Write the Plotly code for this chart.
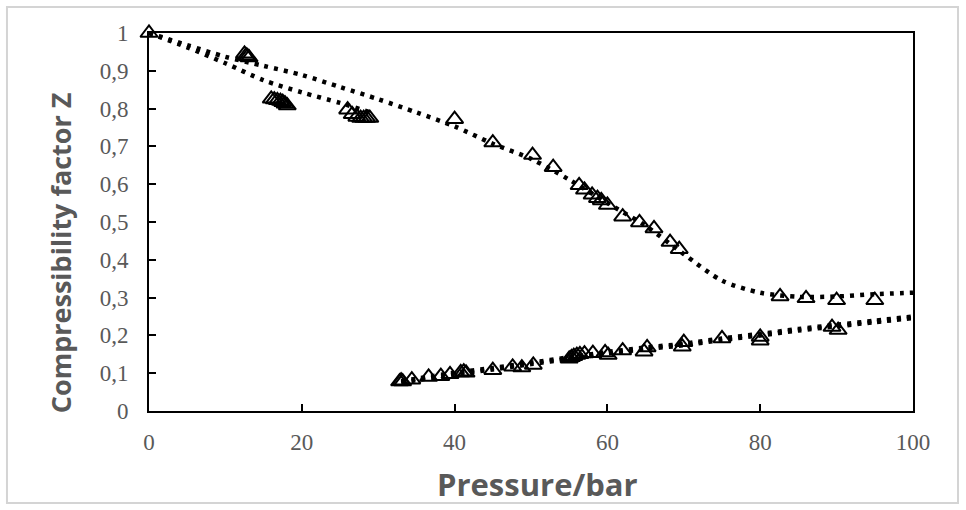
import plotly.graph_objects as go

# ---- data ----
# series A (upper branch)
a_p = [0, 12.5, 12.7, 12.9, 13.1, 40, 45, 50.2, 52.9, 56.3, 57, 58, 58.7, 59.2, 60,
       62, 64.2, 66.1, 68.2, 69.4, 82.6, 86, 90, 95]
a_z = [1.0, 0.945, 0.94, 0.938, 0.935, 0.772, 0.71, 0.677, 0.645, 0.597, 0.585, 0.572,
       0.563, 0.557, 0.545, 0.514, 0.499, 0.483, 0.447, 0.428, 0.303, 0.298, 0.293, 0.293]
# series B (short branch)
b_p = [16.0, 16.4, 16.8, 17.2, 17.5, 17.8, 18.1, 26.0, 26.6, 27.2, 27.7, 28.1, 28.5, 28.9]
b_z = [0.826, 0.824, 0.822, 0.82, 0.817, 0.813, 0.808, 0.797, 0.785, 0.778, 0.775,
       0.775, 0.775, 0.775]
# series C (lower branch)
c_p = [32.8, 33.0, 33.2, 34.4, 36.6, 38.2, 39.4, 40.8, 41.2, 41.5, 45, 47.6, 48.8, 50.3,
       55, 55.3, 55.6, 56, 56.4, 57, 58.1, 59.7, 60.1, 62, 64.8, 65.2, 69.8, 70, 75,
       80, 80, 89.4, 90.2]
c_z = [0.078, 0.080, 0.078, 0.083, 0.09, 0.092, 0.097, 0.102, 0.104, 0.101, 0.108, 0.117,
       0.115, 0.122, 0.138, 0.142, 0.145, 0.148, 0.15, 0.152, 0.153, 0.155, 0.148, 0.16,
       0.157, 0.168, 0.17, 0.182, 0.192, 0.196, 0.186, 0.222, 0.214]

# trend lines (dotted)
ta_p = [0, 5, 10, 15, 20, 25, 30, 35, 40, 45, 50, 55, 60, 65, 70, 75, 80, 85, 90, 95, 100]
ta_z = [1.0, 0.968, 0.937, 0.913, 0.889, 0.857, 0.825, 0.79, 0.753, 0.707, 0.667, 0.612,
        0.55, 0.49, 0.415, 0.345, 0.313, 0.302, 0.303, 0.309, 0.313]
tb_p = [0, 5, 10, 15, 20, 25, 29]
tb_z = [1.0, 0.962, 0.92, 0.875, 0.843, 0.815, 0.79]
tc_p = [33, 40, 45, 50, 55, 60, 65, 70, 75, 80, 85, 90, 95, 100]
tc_z = [0.075, 0.097, 0.11, 0.124, 0.138, 0.152, 0.164, 0.174, 0.188, 0.200, 0.213,
        0.224, 0.235, 0.246]
td_z = [0.079, 0.101, 0.114, 0.128, 0.142, 0.156, 0.168, 0.178, 0.192, 0.204, 0.217,
        0.228, 0.239, 0.250]

x_ticks = [0, 20, 40, 60, 80, 100]
y_ticks = [0, 0.1, 0.2, 0.3, 0.4, 0.5, 0.6, 0.7, 0.8, 0.9, 1]
y_tick_text = ["0", "0,1", "0,2", "0,3", "0,4", "0,5", "0,6", "0,7", "0,8", "0,9", "1"]

GRAY = "#595959"
fig = go.Figure()

dot_line = dict(color="black", width=4.5, dash="4px,6px", shape="spline", smoothing=0.8)
for px, pz in [(ta_p, ta_z), (tb_p, tb_z), (tc_p, tc_z), (tc_p, td_z)]:
    fig.add_trace(go.Scatter(x=px, y=pz, mode="lines", line=dot_line,
                             hoverinfo="skip", showlegend=False))

mk = dict(symbol="triangle-up-open", size=15, color="black", line=dict(color="black", width=2))
for px, pz in [(a_p, a_z), (b_p, b_z), (c_p, c_z)]:
    fig.add_trace(go.Scatter(x=px, y=pz, mode="markers", marker=mk,
                             cliponaxis=False, showlegend=False))

axis_common = dict(showgrid=False, zeroline=False, showline=True, linecolor="black",
                   linewidth=2, mirror=True, ticks="inside", ticklen=7, tickwidth=1.5,
                   tickcolor="black", automargin=False,
                   tickfont=dict(family="Liberation Serif", size=23, color=GRAY))

fig.update_xaxes(range=[0, 100], tickvals=x_ticks, ticklabelstandoff=9, **axis_common)
fig.update_yaxes(range=[0, 1], tickvals=y_ticks, ticktext=y_tick_text,
                 ticklabelstandoff=14, **axis_common)

fig.add_annotation(text="Pressure/bar", xref="paper", yref="paper", x=0.509, y=-0.193,
                   showarrow=False, xanchor="center", yanchor="middle",
                   font=dict(family="Open Sans", size=31, color=GRAY, weight="bold"))
fig.add_annotation(text="Compressibility factor Z", xref="paper", yref="paper",
                   x=-0.1165, y=0.42, textangle=-90, showarrow=False,
                   xanchor="center", yanchor="middle",
                   font=dict(family="Open Sans", size=27, color=GRAY, weight="bold"))

fig.add_shape(type="rect", xref="paper", yref="paper", x0=-0.1859, x1=1.0589,
              y0=-0.2434, y1=1.0688, line=dict(color="#d4d4d4", width=2), layer="below")

fig.update_layout(width=966, height=510, margin=dict(l=149, r=53, t=33, b=99),
                  paper_bgcolor="white", plot_bgcolor="white", showlegend=False)

fig.write_html("out.html", config={"displayModeBar": False},
               post_script="document.body.style.margin='0';document.body.style.overflow='hidden';")
